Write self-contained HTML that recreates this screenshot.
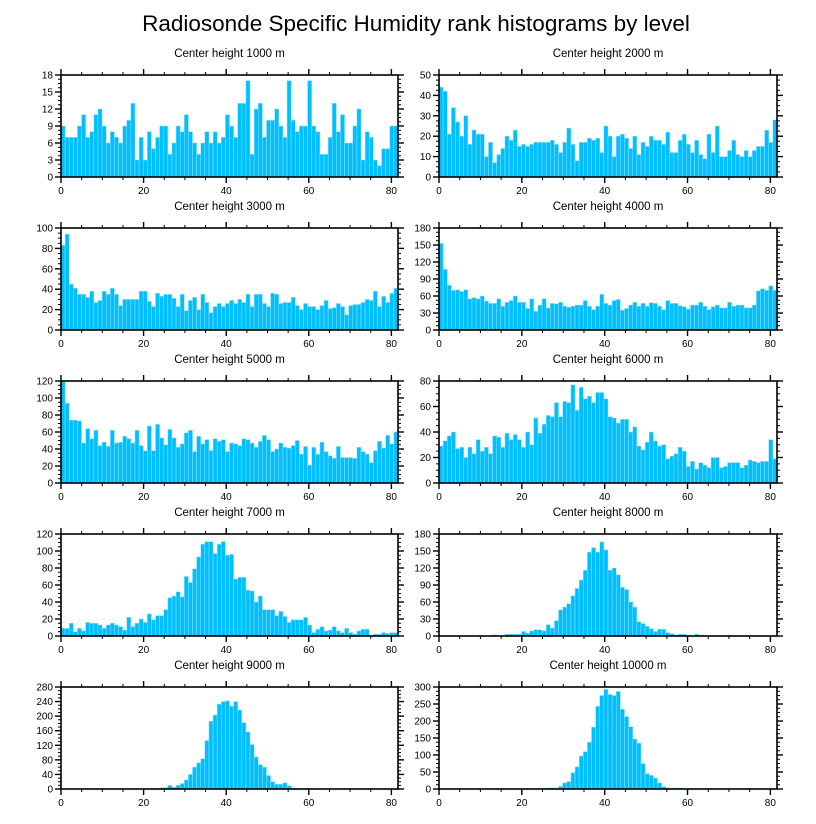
<!DOCTYPE html>
<html><head><meta charset="utf-8"><style>
html,body{margin:0;padding:0;background:#fff;}
svg{display:block;font-family:"Liberation Sans",Arial,sans-serif;}
</style></head>
<body>
<svg id="chart" width="816" height="824" viewBox="0 0 816 824" xmlns="http://www.w3.org/2000/svg">
<text x="416" y="31" font-size="22.5" text-anchor="middle">Radiosonde Specific Humidity rank histograms by level</text>
</svg>
<script>
const titles = ["Center height 1000 m","Center height 2000 m","Center height 3000 m","Center height 4000 m","Center height 5000 m","Center height 6000 m","Center height 7000 m","Center height 8000 m","Center height 9000 m","Center height 10000 m"];
const yMaxes = [18,50,100,180,120,80,120,180,280,300];
const ySteps = [3,10,20,30,20,20,20,30,40,50];
const xTicks = [0,20,40,60,80];
const h1000 = [9,7,7,7,9,11,7,8,11,12,9,6,8,7,6,9,10,13,3,7,3,8,5,7,9,9,4,6,9,8,11,8,6,4,6,8,6,8,6,7,11,9,7,13,13,17,4,12,13,7,10,10,12,9,7,17,10,8,9,9,17,9,8,4,4,7,13,8,11,6,6,9,12,3,8,7,3,2,5,5,9,9];
const h2000 = [44,42,21,34,27,20,30,16,23,21,21,10,17,7,11,14,20,18,23,15,16,15,16,17,17,17,17,18,16,12,17,24,16,8,17,17,19,18,19,12,25,20,10,20,21,19,14,20,11,17,15,20,18,18,16,22,12,12,18,21,16,12,18,11,9,21,12,25,10,10,13,18,11,10,13,10,13,15,15,23,17,28];
const h3000 = [83,94,45,41,35,35,32,38,27,29,38,35,41,35,24,30,30,30,30,38,38,28,23,36,33,35,35,31,23,35,19,29,32,20,35,27,17,23,26,23,26,29,26,30,27,35,23,35,35,26,23,36,35,26,27,27,32,24,20,26,23,23,20,24,29,21,22,26,23,15,24,25,25,27,30,29,38,23,33,27,36,41];
const h4000 = [153,107,79,70,71,68,71,55,57,55,60,51,47,47,55,42,49,52,60,49,49,38,55,33,44,55,39,47,46,49,42,40,42,44,44,52,42,36,42,63,47,44,52,54,35,38,44,49,42,47,42,48,47,42,36,52,47,47,43,41,37,44,44,49,42,36,41,44,39,39,49,42,44,44,39,39,44,69,73,70,78,70];
const h5000 = [120,94,74,74,73,47,64,52,62,44,48,43,62,47,48,55,52,47,62,44,38,67,38,69,53,45,63,53,42,46,59,62,37,55,46,51,38,52,49,51,37,47,46,44,52,51,47,42,49,56,51,37,40,47,42,41,44,50,34,43,21,42,34,48,37,32,29,43,30,30,30,29,42,37,34,24,38,49,41,56,46,60];
const h6000 = [29,33,37,40,27,28,20,28,23,34,25,28,23,37,36,28,39,34,38,34,28,40,30,51,39,46,53,52,63,52,64,63,77,57,75,66,68,63,71,71,66,52,51,47,50,50,40,44,29,26,32,40,33,29,30,19,21,23,28,25,13,17,11,16,14,12,20,20,12,13,16,16,16,12,14,18,17,16,17,17,34,19];
const h7000 = [9,9,15,5,9,6,16,15,15,13,9,13,15,13,11,7,22,11,15,20,16,26,19,24,24,31,45,47,52,46,70,63,79,93,108,111,111,97,108,111,95,96,67,69,69,54,53,40,47,31,31,31,24,29,23,16,19,19,19,22,13,4,8,11,6,7,11,6,4,9,4,2,6,8,8,0,2,2,4,3,4,4];
const h8000 = [0,0,0,0,0,0,0,0,0,0,0,0,0,2,0,0,3,3,3,3,8,5,9,11,11,9,20,14,27,46,51,57,71,84,99,116,148,156,148,166,152,116,120,108,86,82,60,51,25,22,17,13,8,12,12,6,4,2,3,3,1,0,3,1,0,0,0,0,0,0,1,0,0,0,0,0,0,0,0,0,0,0];
const h9000 = [0,0,0,0,0,0,0,0,0,0,0,0,0,0,0,0,0,0,0,0,0,0,1,2,3,4,10,5,10,15,25,40,60,72,83,133,186,203,233,240,242,227,240,217,182,157,122,88,67,60,37,20,13,13,17,9,3,2,1,1,2,1,1,1,0,0,0,0,0,0,0,0,0,0,0,0,0,0,0,0,0,0];
const h10000 = [0,0,0,0,0,0,0,0,0,0,0,0,0,0,0,0,0,0,0,0,0,0,0,0,1,2,3,3,3,8,18,22,48,65,97,110,138,182,243,275,293,278,275,287,235,213,183,147,135,75,45,40,32,18,7,3,3,3,3,1,1,1,1,1,1,1,1,1,1,1,1,0,0,0,0,0,0,0,0,0,0,0];
const series = [h1000,h2000,h3000,h4000,h5000,h6000,h7000,h8000,h9000,h10000];

const NS = "http://www.w3.org/2000/svg";
const svg = document.getElementById("chart");
const colX = [[61,398],[439,777]];
const rowTop = [75,228,381,534,687];
const plotH = 102;
const XMAX = 81.6;

function mk(tag, attrs, parent){
  const e = document.createElementNS(NS, tag);
  for (const k in attrs) e.setAttribute(k, attrs[k]);
  (parent||svg).appendChild(e);
  return e;
}

for (let p = 0; p < 10; p++) {
  const [x0, x1] = colX[p % 2];
  const y0 = rowTop[Math.floor(p / 2)], y1 = y0 + plotH;
  const ymax = yMaxes[p], step = ySteps[p], data = series[p];
  const xs = v => x0 + (x1 - x0) * v / XMAX;
  const ys = v => y1 - plotH * v / ymax;
  const bw = (x1 - x0) / data.length;
  const g = mk("g", {});
  
  

  const t = mk("text", {x: (x0 + x1) / 2, y: y0 - 18, "font-size": 11.5, "text-anchor": "middle"}, g);
  t.textContent = titles[p];
  
  

  for (let i = 0; i < data.length; i++) {
    if (data[i] <= 0) continue;
    const r = mk("rect", {x: x0 + i * bw, y: ys(data[i]), width: bw, height: y1 - ys(data[i]), fill: "#00bfff", stroke: "#8fe2ff", "stroke-width": 0.5}, g);
    
    
  }

  const frame = mk("rect", {x: x0, y: y0, width: x1 - x0, height: plotH, fill: "none", stroke: "#000", "stroke-width": 1.6}, g);
  
  

  for (let v = 0; v <= 80; v += 5) {
    const major = v % 20 === 0;
    const len = major ? 6 : 3;
    const xx = xs(v);
    mk("line", {x1: xx, x2: xx, y1: y1, y2: y1 + len, stroke: "#000", "stroke-width": major ? 1.4 : 1}, g);
    mk("line", {x1: xx, x2: xx, y1: y0, y2: y0 - len, stroke: "#000", "stroke-width": major ? 1.4 : 1}, g);
  }
  xTicks.forEach(v => {
    const tl = mk("text", {x: xs(v), y: y1 + 17, "font-size": 10, "text-anchor": "middle"}, g);
    tl.textContent = v;
    
    
  });
  const minor = step / 4;
  for (let k = 0; k * minor <= ymax + 1e-9; k++) {
    const v = k * minor;
    const major = k % 4 === 0;
    const len = major ? 6 : 3;
    const yy = ys(v);
    mk("line", {x1: x0, x2: x0 - len, y1: yy, y2: yy, stroke: "#000", "stroke-width": major ? 1.4 : 1}, g);
    mk("line", {x1: x1, x2: x1 + len, y1: yy, y2: yy, stroke: "#000", "stroke-width": major ? 1.4 : 1}, g);
    if (major) {
      const yl = mk("text", {x: x0 - 8, y: yy + 3.5, "font-size": 10, "text-anchor": "end"}, g);
      yl.textContent = v;
      
      
    }
  }
}
</script>
</body></html>
